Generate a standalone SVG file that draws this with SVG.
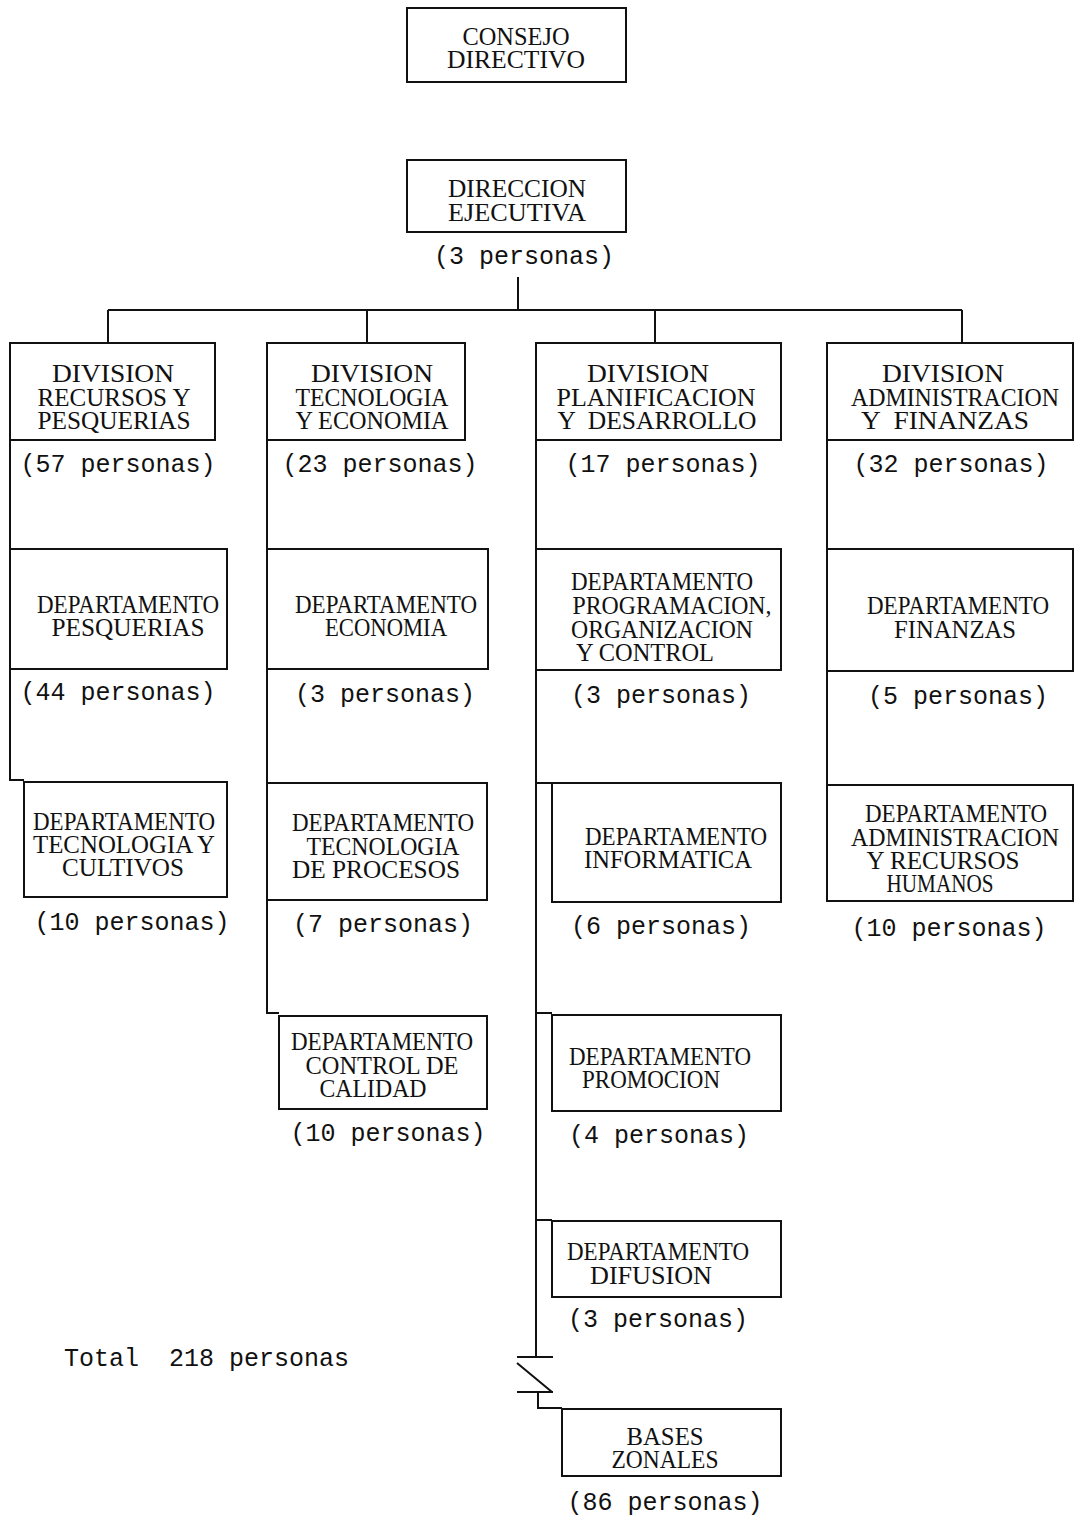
<svg xmlns="http://www.w3.org/2000/svg" width="1075" height="1519" viewBox="0 0 1075 1519">
<style>
rect.n{fill:none;stroke:#111;stroke-width:2}
.c path{fill:none;stroke:#111;stroke-width:2}
text{fill:#111;white-space:pre}
text.b{font-family:"Liberation Serif","DejaVu Serif",serif;font-size:26px;text-anchor:middle}
text.p{font-family:"Liberation Mono","DejaVu Sans Mono",monospace;font-size:25px;text-anchor:middle}
text.t{font-family:"Liberation Mono","DejaVu Sans Mono",monospace;font-size:25px}
</style>
<rect width="1075" height="1519" fill="#fff"/>
<g class="c" id="connectors">
<path d="M518,277 V310 M108,310 H962 M108,310 V343 M367,310 V343 M655,310 V343 M962,310 V343"/>
<path d="M10,440 V780 H24"/>
<path d="M267,440 V1013 H279"/>
<path d="M536,440 V1357 M536,783 H552 M536,1013 H552 M536,1220 H552"/>
<path d="M517,1357 H553 M517,1363 L552,1392 M517,1392 H553 M538,1392 V1408 H562"/>
<path d="M827,440 V785"/>
</g>
<g id="consejo"><rect class="n" x="407" y="8" width="219" height="74"/>
<text class="b" x="516" y="45" textLength="107" lengthAdjust="spacingAndGlyphs">CONSEJO</text>
<text class="b" x="516" y="68" textLength="138" lengthAdjust="spacingAndGlyphs">DIRECTIVO</text></g>
<g id="direccion"><rect class="n" x="407" y="160" width="219" height="72"/>
<text class="b" x="517" y="197" textLength="138" lengthAdjust="spacingAndGlyphs">DIRECCION</text>
<text class="b" x="517" y="221" textLength="138" lengthAdjust="spacingAndGlyphs">EJECUTIVA</text>
<text class="p" x="524" y="264">(3 personas)</text></g>
<g id="div1"><rect class="n" x="10" y="343" width="205" height="97"/>
<text class="b" x="113" y="382" textLength="122" lengthAdjust="spacingAndGlyphs">DIVISION</text>
<text class="b" x="114" y="406" textLength="153" lengthAdjust="spacingAndGlyphs">RECURSOS Y</text>
<text class="b" x="114" y="429" textLength="153" lengthAdjust="spacingAndGlyphs">PESQUERIAS</text>
<text class="p" x="118" y="472">(57 personas)</text></g>
<g id="div2"><rect class="n" x="267" y="343" width="198" height="97"/>
<text class="b" x="372" y="382" textLength="122" lengthAdjust="spacingAndGlyphs">DIVISION</text>
<text class="b" x="372" y="406" textLength="153" lengthAdjust="spacingAndGlyphs">TECNOLOGIA</text>
<text class="b" x="372" y="429" textLength="153" lengthAdjust="spacingAndGlyphs">Y ECONOMIA</text>
<text class="p" x="380" y="472">(23 personas)</text></g>
<g id="div3"><rect class="n" x="536" y="343" width="245" height="97"/>
<text class="b" x="648" y="382" textLength="122" lengthAdjust="spacingAndGlyphs">DIVISION</text>
<text class="b" x="656" y="406" textLength="199" lengthAdjust="spacingAndGlyphs">PLANIFICACION</text>
<text class="b" x="657" y="429" textLength="199" lengthAdjust="spacingAndGlyphs">Y  DESARROLLO</text>
<text class="p" x="663" y="472">(17 personas)</text></g>
<g id="div4"><rect class="n" x="827" y="343" width="246" height="97"/>
<text class="b" x="943" y="382" textLength="122" lengthAdjust="spacingAndGlyphs">DIVISION</text>
<text class="b" x="955" y="406" textLength="208" lengthAdjust="spacingAndGlyphs">ADMINISTRACION</text>
<text class="b" x="945" y="429" textLength="168" lengthAdjust="spacingAndGlyphs">Y  FINANZAS</text>
<text class="p" x="951" y="472">(32 personas)</text></g>
<g id="pesquerias"><rect class="n" x="10" y="549" width="217" height="120"/>
<text class="b" x="128" y="613" textLength="182" lengthAdjust="spacingAndGlyphs">DEPARTAMENTO</text>
<text class="b" x="128" y="636" textLength="153" lengthAdjust="spacingAndGlyphs">PESQUERIAS</text>
<text class="p" x="118" y="700">(44 personas)</text></g>
<g id="cultivos"><rect class="n" x="24" y="782" width="203" height="115"/>
<text class="b" x="124" y="830" textLength="182" lengthAdjust="spacingAndGlyphs">DEPARTAMENTO</text>
<text class="b" x="124" y="853" textLength="182" lengthAdjust="spacingAndGlyphs">TECNOLOGIA Y</text>
<text class="b" x="123" y="876" textLength="122" lengthAdjust="spacingAndGlyphs">CULTIVOS</text>
<text class="p" x="132" y="930">(10 personas)</text></g>
<g id="economia"><rect class="n" x="267" y="549" width="221" height="120"/>
<text class="b" x="386" y="613" textLength="182" lengthAdjust="spacingAndGlyphs">DEPARTAMENTO</text>
<text class="b" x="386" y="636" textLength="122" lengthAdjust="spacingAndGlyphs">ECONOMIA</text>
<text class="p" x="385" y="702">(3 personas)</text></g>
<g id="procesos"><rect class="n" x="267" y="783" width="220" height="117"/>
<text class="b" x="383" y="831" textLength="182" lengthAdjust="spacingAndGlyphs">DEPARTAMENTO</text>
<text class="b" x="383" y="855" textLength="153" lengthAdjust="spacingAndGlyphs">TECNOLOGIA</text>
<text class="b" x="376" y="878" textLength="168" lengthAdjust="spacingAndGlyphs">DE PROCESOS</text>
<text class="p" x="383" y="932">(7 personas)</text></g>
<g id="calidad"><rect class="n" x="279" y="1016" width="208" height="93"/>
<text class="b" x="382" y="1050" textLength="182" lengthAdjust="spacingAndGlyphs">DEPARTAMENTO</text>
<text class="b" x="382" y="1074" textLength="153" lengthAdjust="spacingAndGlyphs">CONTROL DE</text>
<text class="b" x="373" y="1097" textLength="107" lengthAdjust="spacingAndGlyphs">CALIDAD</text>
<text class="p" x="388" y="1141">(10 personas)</text></g>
<g id="programacion"><rect class="n" x="536" y="549" width="245" height="121"/>
<text class="b" x="662" y="590" textLength="182" lengthAdjust="spacingAndGlyphs">DEPARTAMENTO</text>
<text class="b" x="672" y="614" textLength="199" lengthAdjust="spacingAndGlyphs">PROGRAMACION,</text>
<text class="b" x="662" y="638" textLength="182" lengthAdjust="spacingAndGlyphs">ORGANIZACION</text>
<text class="b" x="645" y="661" textLength="138" lengthAdjust="spacingAndGlyphs">Y CONTROL</text>
<text class="p" x="661" y="703">(3 personas)</text></g>
<g id="informatica"><rect class="n" x="552" y="783" width="229" height="119"/>
<text class="b" x="676" y="845" textLength="182" lengthAdjust="spacingAndGlyphs">DEPARTAMENTO</text>
<text class="b" x="668" y="868" textLength="168" lengthAdjust="spacingAndGlyphs">INFORMATICA</text>
<text class="p" x="661" y="934">(6 personas)</text></g>
<g id="promocion"><rect class="n" x="552" y="1015" width="229" height="96"/>
<text class="b" x="660" y="1065" textLength="182" lengthAdjust="spacingAndGlyphs">DEPARTAMENTO</text>
<text class="b" x="651" y="1088" textLength="138" lengthAdjust="spacingAndGlyphs">PROMOCION</text>
<text class="p" x="659" y="1143">(4 personas)</text></g>
<g id="difusion"><rect class="n" x="552" y="1221" width="229" height="76"/>
<text class="b" x="658" y="1260" textLength="182" lengthAdjust="spacingAndGlyphs">DEPARTAMENTO</text>
<text class="b" x="651" y="1284" textLength="122" lengthAdjust="spacingAndGlyphs">DIFUSION</text>
<text class="p" x="658" y="1327">(3 personas)</text></g>
<g id="bases"><rect class="n" x="562" y="1409" width="219" height="67"/>
<text class="b" x="665" y="1445" textLength="77" lengthAdjust="spacingAndGlyphs">BASES</text>
<text class="b" x="665" y="1468" textLength="107" lengthAdjust="spacingAndGlyphs">ZONALES</text>
<text class="p" x="665" y="1510">(86 personas)</text></g>
<g id="finanzas"><rect class="n" x="827" y="549" width="246" height="122"/>
<text class="b" x="958" y="614" textLength="182" lengthAdjust="spacingAndGlyphs">DEPARTAMENTO</text>
<text class="b" x="955" y="638" textLength="122" lengthAdjust="spacingAndGlyphs">FINANZAS</text>
<text class="p" x="958" y="704">(5 personas)</text></g>
<g id="admin"><rect class="n" x="827" y="785" width="246" height="116"/>
<text class="b" x="956" y="822" textLength="182" lengthAdjust="spacingAndGlyphs">DEPARTAMENTO</text>
<text class="b" x="955" y="846" textLength="208" lengthAdjust="spacingAndGlyphs">ADMINISTRACION</text>
<text class="b" x="943" y="869" textLength="153" lengthAdjust="spacingAndGlyphs">Y RECURSOS</text>
<text class="b" x="940" y="892" textLength="107" lengthAdjust="spacingAndGlyphs">HUMANOS</text>
<text class="p" x="949" y="936">(10 personas)</text></g>
<g id="total"><text class="t" x="64" y="1366">Total  218 personas</text></g>
</svg>
